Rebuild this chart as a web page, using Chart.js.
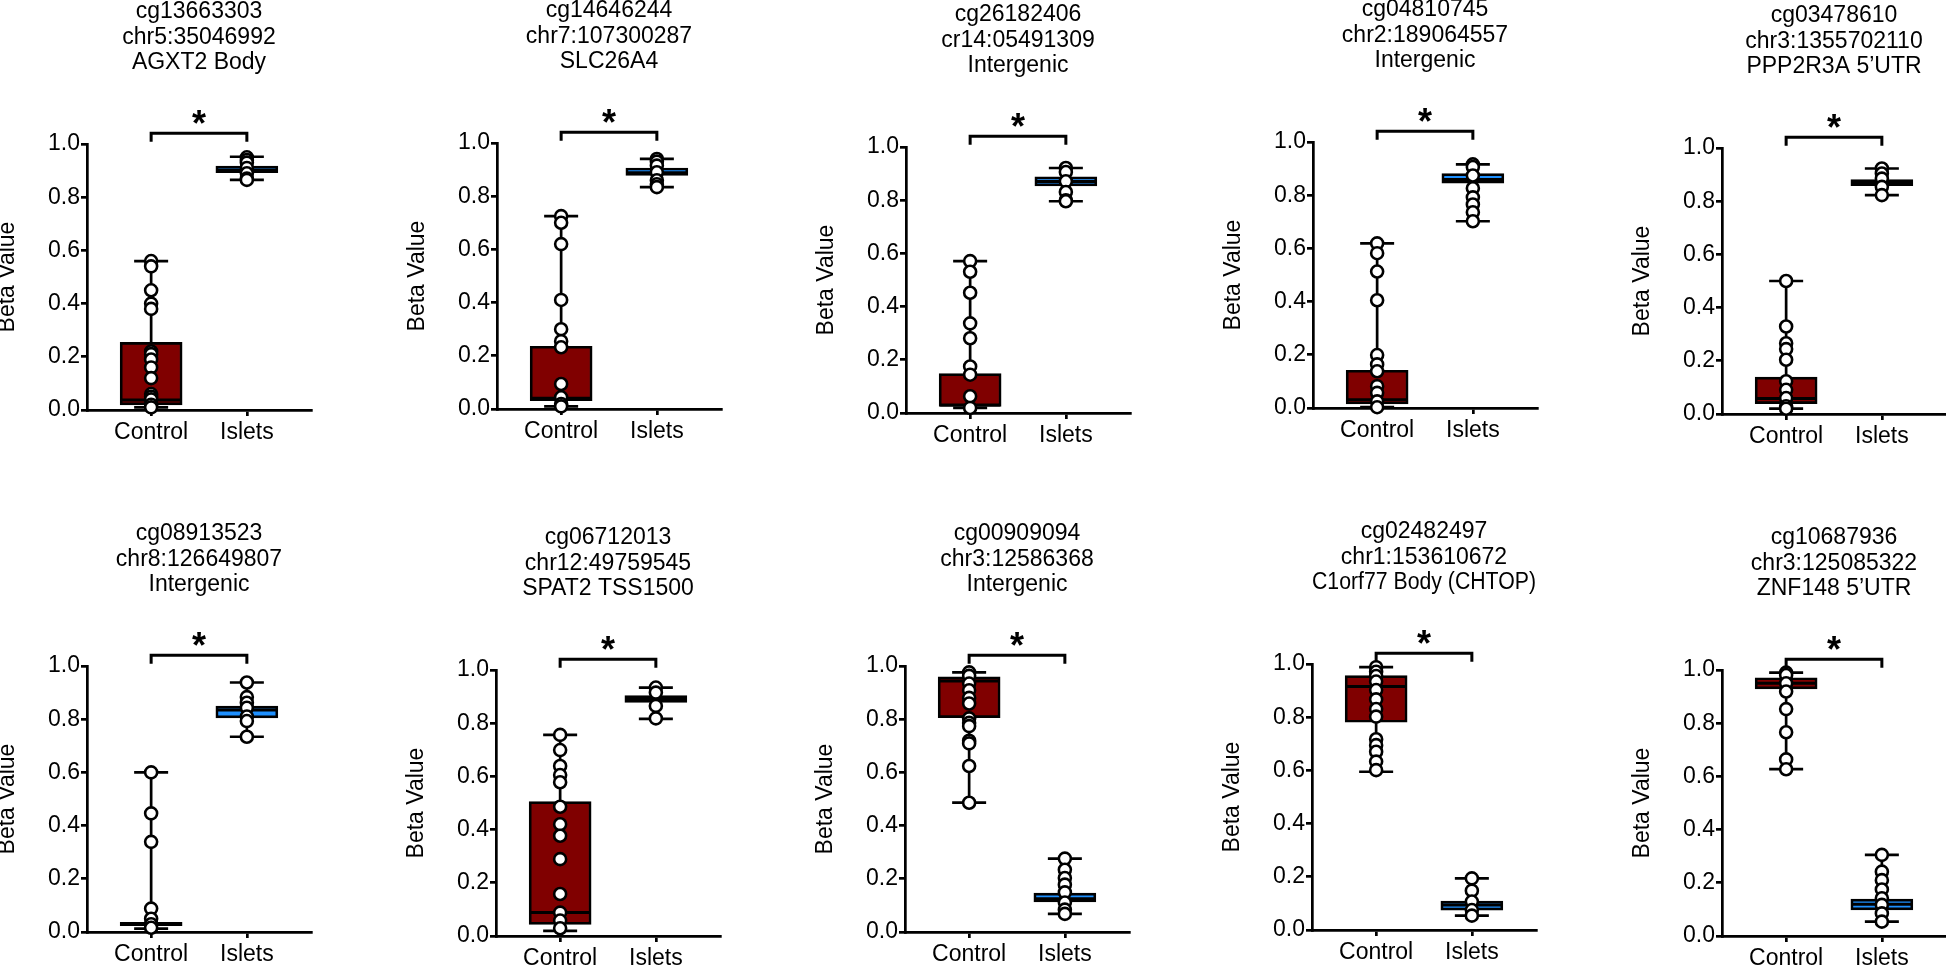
<!DOCTYPE html>
<html>
<head>
<meta charset="utf-8">
<script src="https://cdn.jsdelivr.net/npm/chart.js@4.4.1/dist/chart.umd.min.js"></script>
<style>
  html, body { margin: 0; padding: 0; background: #fff; }
  body { width: 1946px; height: 965px; overflow: hidden; position: relative; }
  canvas { position: absolute; }
</style>
</head>
<body>
<script>
// groups and axis ticks
const groups = ['Control', 'Islets'];
const yTicks = [0, 0.2, 0.4, 0.6, 0.8, 1.0];

// panel titles
const probes = ['cg13663303', 'cg14646244', 'cg26182406', 'cg04810745', 'cg03478610',
                'cg08913523', 'cg06712013', 'cg00909094', 'cg02482497', 'cg10687936'];
const loci = ['chr5:35046992', 'chr7:107300287', 'cr14:05491309', 'chr2:189064557', 'chr3:1355702110',
              'chr8:126649807', 'chr12:49759545', 'chr3:12586368', 'chr1:153610672', 'chr3:125085322'];
const regions = ['AGXT2 Body', 'SLC26A4', 'Intergenic', 'Intergenic', 'PPP2R3A 5\u2019UTR',
                 'Intergenic', 'SPAT2 TSS1500', 'Intergenic', 'C1orf77 Body (CHTOP)', 'ZNF148 5\u2019UTR'];

// box stats per panel: [min, q1, median, q3, max]
const controlBox = [
  [0.01, 0.019, 0.038, 0.254, 0.56],
  [0.01, 0.031, 0.04, 0.236, 0.725],
  [0.019, 0.025, 0.03, 0.148, 0.571],
  [0.003, 0.015, 0.031, 0.142, 0.619],
  [0.02, 0.039, 0.058, 0.139, 0.5],
  [0.013, 0.024, 0.029, 0.036, 0.6],
  [0.019, 0.044, 0.088, 0.505, 0.756],
  [0.486, 0.806, 0.944, 0.959, 0.976],
  [0.595, 0.781, 0.915, 0.956, 0.988],
  [0.627, 0.929, 0.95, 0.971, 0.99]
];
const isletBox = [
  [0.865, 0.892, 0.901, 0.917, 0.952],
  [0.834, 0.878, 0.888, 0.906, 0.94],
  [0.796, 0.854, 0.87, 0.888, 0.921],
  [0.702, 0.845, 0.859, 0.881, 0.916],
  [0.823, 0.858, 0.868, 0.881, 0.923],
  [0.734, 0.805, 0.835, 0.849, 0.938],
  [0.816, 0.878, 0.889, 0.904, 0.934],
  [0.068, 0.113, 0.125, 0.146, 0.276],
  [0.054, 0.075, 0.094, 0.109, 0.194],
  [0.054, 0.098, 0.119, 0.139, 0.305]
];

// individual samples
const controlPoints = [
  [0.56, 0.54, 0.45, 0.40, 0.38, 0.22, 0.21, 0.19, 0.16, 0.12, 0.06, 0.05, 0.04, 0.02, 0.01],
  [0.725, 0.70, 0.62, 0.41, 0.30, 0.255, 0.232, 0.094, 0.044, 0.019, 0.01],
  [0.571, 0.531, 0.452, 0.337, 0.281, 0.175, 0.144, 0.063, 0.019],
  [0.619, 0.582, 0.513, 0.405, 0.199, 0.164, 0.138, 0.082, 0.057, 0.025, 0.003],
  [0.5, 0.329, 0.266, 0.244, 0.204, 0.123, 0.091, 0.06, 0.029, 0.02],
  [0.6, 0.446, 0.339, 0.088, 0.05, 0.029, 0.016],
  [0.756, 0.699, 0.639, 0.605, 0.578, 0.486, 0.42, 0.377, 0.289, 0.158, 0.088, 0.058, 0.029],
  [0.976, 0.963, 0.934, 0.909, 0.88, 0.859, 0.803, 0.786, 0.774, 0.719, 0.709, 0.624, 0.486],
  [0.988, 0.971, 0.955, 0.934, 0.902, 0.867, 0.831, 0.802, 0.717, 0.695, 0.67, 0.633, 0.601],
  [0.99, 0.981, 0.95, 0.919, 0.853, 0.766, 0.664, 0.627]
];
const isletPoints = [
  [0.95, 0.94, 0.93, 0.91, 0.89, 0.87, 0.865],
  [0.94, 0.93, 0.915, 0.89, 0.86, 0.845, 0.834],
  [0.921, 0.906, 0.871, 0.831, 0.80, 0.796],
  [0.916, 0.906, 0.874, 0.826, 0.792, 0.765, 0.736, 0.702],
  [0.923, 0.904, 0.885, 0.854, 0.823],
  [0.938, 0.883, 0.862, 0.843, 0.81, 0.793, 0.734],
  [0.934, 0.915, 0.865, 0.818],
  [0.276, 0.234, 0.203, 0.178, 0.149, 0.111, 0.084, 0.068],
  [0.194, 0.148, 0.107, 0.075, 0.054],
  [0.305, 0.242, 0.21, 0.175, 0.142, 0.117, 0.085, 0.054]
];

// where each plot area sits on the page (left edge of y axis, pixel row of 1.0)
const plotLeft = [87, 497, 906, 1313, 1722, 87, 496, 905, 1312, 1722];
const plotTop = [144, 143, 147, 142, 148, 666, 670, 666, 664, 670];

const PLOT_W = 224, PLOT_H = 266;
const AXIS_W = 95, XAXIS_H = 50, TITLE_H = 145, PAD_R = 10;
const FONT = "'Liberation Sans', Arial, Helvetica, sans-serif";
const boxColors = ['#800000', '#1E90FF'];

// whiskers, medians, significance bracket
const boxPlugin = {
    id: 'boxWhiskers',
    beforeDatasetsDraw(chart, args, opts) {
        const xs = chart.scales.x, ys = chart.scales.y, ctx = chart.ctx;
        ctx.save();
        ctx.strokeStyle = '#000';
        ctx.lineWidth = 2.7;
        opts.stats.forEach((s, k) => {
            const x = xs.getPixelForValue(k + 1);
            ctx.beginPath();
            ctx.moveTo(x, ys.getPixelForValue(s[0]));
            ctx.lineTo(x, ys.getPixelForValue(s[4]));
            [s[0], s[4]].forEach(v => {
                const y = ys.getPixelForValue(v);
                ctx.moveTo(x - 17, y);
                ctx.lineTo(x + 17, y);
            });
            ctx.stroke();
        });
        ctx.restore();
    },
    afterDatasetDraw(chart, args, opts) {
        if (args.meta.type !== 'bar') return;
        const xs = chart.scales.x, ys = chart.scales.y, ctx = chart.ctx;
        ctx.save();
        ctx.strokeStyle = '#000';
        ctx.lineWidth = 3;
        opts.stats.forEach((s, k) => {
            const x = xs.getPixelForValue(k + 1);
            const y = ys.getPixelForValue(s[2]);
            ctx.beginPath();
            ctx.moveTo(x - 30, y);
            ctx.lineTo(x + 30, y);
            ctx.stroke();
        });
        ctx.restore();
    },
    afterDraw(chart) {
        const xs = chart.scales.x, ys = chart.scales.y, ctx = chart.ctx;
        const x1 = xs.getPixelForValue(1), x2 = xs.getPixelForValue(2);
        const yLeg = ys.getPixelForValue(1.008), yBar = ys.getPixelForValue(1.04);
        ctx.save();
        ctx.strokeStyle = '#000';
        ctx.lineWidth = 3;
        ctx.beginPath();
        ctx.moveTo(x1, yLeg);
        ctx.lineTo(x1, yBar);
        ctx.lineTo(x2, yBar);
        ctx.lineTo(x2, yLeg);
        ctx.stroke();
        ctx.fillStyle = '#000';
        ctx.font = 'bold 36px ' + FONT;
        ctx.textAlign = 'center';
        ctx.textBaseline = 'alphabetic';
        const m = ctx.measureText('*');
        const yc = ys.getPixelForValue(1.10);
        ctx.fillText('*', (x1 + x2) / 2, yc + (m.actualBoundingBoxAscent - m.actualBoundingBoxDescent) / 2);
        ctx.restore();
    }
};

function makePanel(i) {
    const canvas = document.createElement('canvas');
    const w = AXIS_W + PLOT_W + PAD_R;
    const h = TITLE_H + PLOT_H + XAXIS_H;
    canvas.width = w;
    canvas.height = h;
    canvas.style.width = w + 'px';
    canvas.style.height = h + 'px';
    canvas.style.left = (plotLeft[i] - AXIS_W) + 'px';
    canvas.style.top = (plotTop[i] - TITLE_H) + 'px';
    document.body.appendChild(canvas);

    const cBox = controlBox[i], iBox = isletBox[i];
    const pts = controlPoints[i].map(v => ({ x: 1, y: v }))
        .concat(isletPoints[i].map(v => ({ x: 2, y: v })));

    new Chart(canvas.getContext('2d'), {
        type: 'bar',
        data: {
            datasets: [
                {
                    type: 'scatter',
                    data: pts,
                    order: 0,
                    pointRadius: 6,
                    pointHoverRadius: 6,
                    pointBackgroundColor: '#fff',
                    pointBorderColor: '#000',
                    pointBorderWidth: 2.6,
                    clip: false
                },
                {
                    type: 'bar',
                    data: [{ x: 1, y: [cBox[1], cBox[3]] }, { x: 2, y: [iBox[1], iBox[3]] }],
                    order: 1,
                    backgroundColor: boxColors,
                    borderColor: '#000',
                    borderWidth: 2.7,
                    borderSkipped: false,
                    barThickness: 62,
                    clip: false
                }
            ]
        },
        options: {
            responsive: false,
            animation: false,
            events: [],
            layout: { padding: { left: 0, right: PAD_R, top: 0, bottom: 0 } },
            scales: {
                x: {
                    type: 'linear',
                    min: 0.33,
                    max: 2.67,
                    offset: false,
                    afterBuildTicks: s => { s.ticks = groups.map((g, k) => ({ value: k + 1 })); },
                    afterFit: s => { s.height = XAXIS_H; s.paddingLeft = 0; s.paddingRight = 0; },
                    ticks: {
                        callback: v => groups[v - 1],
                        color: '#000',
                        font: { family: FONT, size: 23 },
                        padding: 3,
                        maxRotation: 0,
                        autoSkip: false
                    },
                    grid: { offset: false, drawOnChartArea: false, drawTicks: true, tickLength: 6, color: '#000', lineWidth: 2.7 },
                    border: { color: '#000', width: 2.7 }
                },
                y: {
                    min: 0,
                    max: 1,
                    afterBuildTicks: s => { s.ticks = yTicks.map(v => ({ value: v })); },
                    afterFit: s => { s.width = AXIS_W; },
                    ticks: {
                        callback: v => v.toFixed(1),
                        color: '#000',
                        font: { family: FONT, size: 23 },
                        padding: 1
                    },
                    grid: { drawOnChartArea: false, drawTicks: true, tickLength: 6, color: '#000', lineWidth: 2.7 },
                    border: { color: '#000', width: 2.7 },
                    title: {
                        display: true,
                        text: 'Beta Value',
                        color: '#000',
                        font: { family: FONT, size: 23 },
                        padding: { top: 2, bottom: 0 }
                    }
                }
            },
            plugins: {
                legend: { display: false },
                tooltip: { enabled: false },
                title: {
                    display: true,
                    fullSize: false,
                    text: [probes[i], loci[i], regions[i]],
                    color: '#000',
                    font: { family: FONT, size: 23, weight: 'normal', lineHeight: 1.11 },
                    padding: { top: 0, bottom: TITLE_H - 3 * 23 * 1.11 }
                },
                boxWhiskers: { stats: [cBox, iBox] }
            }
        },
        plugins: [boxPlugin]
    });
}

for (let i = 0; i < probes.length; i++) {
    makePanel(i);
}
</script>
</body>
</html>
